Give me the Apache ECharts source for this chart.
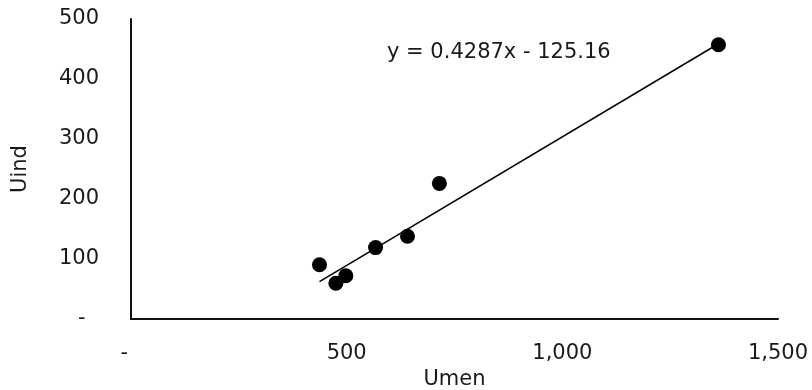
<!DOCTYPE html>
<html>
<head>
<meta charset="utf-8">
<script src="https://cdn.jsdelivr.net/npm/echarts@6/dist/echarts.min.js"></script>
<style>html,body{margin:0;padding:0;background:#fff}#c{width:812px;height:390px}</style>
</head>
<body>
<div id="c"></div>
<script>
const umen = [437, 475, 498, 567, 641, 715, 1362];
const uind = [90.5, 59.5, 72, 119, 138, 226, 457];
const trendSlope = 0.4287;
const trendIntercept = -125.16;
const equationText = 'y = 0.4287x - 125.16';
const xTicks = [0, 500, 1000, 1500];
const yTicks = [0, 100, 200, 300, 400, 500];

const FONT = 'DejaVu Sans';
const FS = 21;
const fmt = v => v === 0 ? '-\u00a0\u00a0' : v.toLocaleString('en-US');
const pts = umen.map((x, i) => [x, uind[i]]);
const xMin = Math.min(...umen), xMax = Math.max(...umen);
const trend = [[xMin, trendSlope * xMin + trendIntercept], [xMax, trendSlope * xMax + trendIntercept]];

const chart = echarts.init(document.getElementById('c'));
chart.setOption({
  animation: false,
  backgroundColor: '#fff',
  grid: { left: 131, right: 34, top: 19, bottom: 71, containLabel: false, outerBoundsMode: 'none' },
  xAxis: {
    type: 'value', min: xTicks[0], max: xTicks[xTicks.length - 1], interval: 500,
    name: 'Umen', nameLocation: 'middle', nameGap: 49,
    nameTextStyle: { fontFamily: FONT, fontSize: FS, color: '#1a1a1a' },
    axisLine: { show: true, lineStyle: { color: '#111', width: 2 } },
    axisTick: { show: false },
    splitLine: { show: false },
    axisLabel: { fontFamily: FONT, fontSize: FS, color: '#1a1a1a', margin: 24, formatter: fmt }
  },
  yAxis: {
    type: 'value', min: yTicks[0], max: yTicks[yTicks.length - 1], interval: 100,
    name: 'Uind', nameLocation: 'middle', nameGap: 100, nameRotate: 90,
    nameTextStyle: { fontFamily: FONT, fontSize: FS, color: '#1a1a1a' },
    axisLine: { show: true, lineStyle: { color: '#111', width: 2 } },
    axisTick: { show: false },
    splitLine: { show: false },
    axisLabel: { fontFamily: FONT, fontSize: FS, color: '#1a1a1a', margin: 32, formatter: fmt }
  },
  series: [
    {
      type: 'line', data: trend, symbol: 'none',
      lineStyle: { color: '#000', width: 1.5 }, silent: true, z: 1
    },
    {
      type: 'scatter', data: pts, symbol: 'circle', symbolSize: 15,
      itemStyle: { color: '#000', opacity: 1 }, z: 2
    }
  ],
  graphic: [{
    type: 'text', left: 387, top: 42,
    style: { text: equationText, fontFamily: FONT, fontSize: FS, fill: '#1a1a1a' }
  }]
});
</script>
</body>
</html>
